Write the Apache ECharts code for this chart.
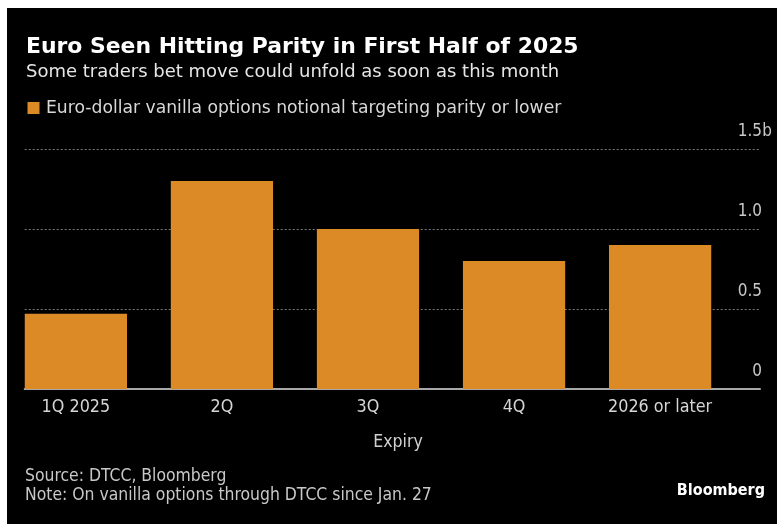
<!DOCTYPE html>
<html>
<head>
<meta charset="utf-8">
<script src="https://cdn.jsdelivr.net/npm/echarts@6/dist/echarts.min.js"></script>
<style>
html,body{margin:0;padding:0;background:#fff;}
#bg{position:absolute;left:7px;top:8px;width:770px;height:516px;background:#000;}
#chart{position:absolute;left:0;top:0;width:777px;height:524px;}
</style>
</head>
<body>
<div id="bg"></div>
<div id="chart"></div>
<script>
const categories = ['1Q 2025', '2Q', '3Q', '4Q', '2026 or later'];
const notionalValues = [0.47, 1.30, 1.00, 0.80, 0.90];
const yTickValues = [0, 0.5, 1.0, 1.5];
const yTickLabels = ['0', '0.5', '1.0', '1.5'];
const yUnitSuffix = 'b';
const titleText = 'Euro Seen Hitting Parity in First Half of 2025';
const subtitleText = 'Some traders bet move could unfold as soon as this month';
const legendText = 'Euro-dollar vanilla options notional targeting parity or lower';
const axisNameText = 'Expiry';
const sourceText = 'Source: DTCC, Bloomberg';
const noteText = 'Note: On vanilla options through DTCC since Jan. 27';
const brandText = 'Bloomberg';

const WIDE = "'DejaVu Sans', sans-serif";
const NARROW = "'DejaVu Sans Condensed', 'DejaVu Sans', sans-serif";
const ORANGE = '#DB8A26';

const chart = echarts.init(document.getElementById('chart'), null, {renderer: 'canvas'});

function txt(x, y, text, size, color, weight, align, family) {
  return {
    type: 'text', x: x, y: y, silent: true,
    style: {
      text: text, fill: color, fontSize: size, fontFamily: family || NARROW,
      fontWeight: weight || 'normal', align: align || 'left', verticalAlign: 'middle'
    }
  };
}

const option = {
  backgroundColor: 'transparent',
  animation: false,
  textStyle: {fontFamily: NARROW},
  grid: [
    {left: 2.85, right: 43.85, top: 149, bottom: 135},
    {left: 24.7, right: 17, top: 149, bottom: 135}
  ],
  xAxis: [
    {
      type: 'category', gridIndex: 0, data: categories,
      axisLine: {show: false}, axisTick: {show: false},
      axisLabel: {color: '#D6D6D6', fontSize: 17.8, fontFamily: NARROW, margin: 9, interval: 0}
    },
    {
      type: 'value', gridIndex: 1, min: 0, max: 1,
      axisLine: {show: true, lineStyle: {color: '#A8A8A8', width: 2}},
      axisTick: {show: false}, axisLabel: {show: false}, splitLine: {show: false}
    }
  ],
  yAxis: [
    {type: 'value', gridIndex: 0, min: 0, max: 1.5, show: false},
    {
      type: 'value', gridIndex: 1, position: 'right', min: 0, max: 1.5, interval: 0.5,
      axisLine: {show: false}, axisTick: {show: false},
      splitLine: {show: true, lineStyle: {color: '#7A7A7A', width: 1, type: [2, 2]}},
      axisLabel: {
        margin: 12, align: 'right', verticalAlign: 'bottom', padding: [0, 0, 7, 0],
        formatter: function (v) {
          const i = yTickValues.findIndex(t => Math.abs(t - v) < 1e-9);
          const lab = i >= 0 ? yTickLabels[i] : String(v);
          const isTop = i === yTickValues.length - 1;
          return '{n|' + lab + '}{u|' + (isTop ? yUnitSuffix : ' ') + '}';
        },
        rich: {
          n: {color: '#C8C8C8', fontSize: 17, fontFamily: NARROW, lineHeight: 20},
          u: {color: '#C8C8C8', fontSize: 17, fontFamily: NARROW, lineHeight: 20, width: 10, align: 'left'}
        }
      }
    }
  ],
  series: [
    {
      type: 'bar', xAxisIndex: 0, yAxisIndex: 0, data: notionalValues,
      barCategoryGap: '30%', itemStyle: {color: ORANGE}, z: 3
    }
  ],
  graphic: [
    txt(26, 47.5, titleText, 21.9, '#FFFFFF', 'bold', 'left', WIDE),
    txt(26, 72, subtitleText, 18, '#E6E6E6', 'normal', 'left', WIDE),
    {type: 'rect', shape: {x: 27.5, y: 102, width: 12, height: 12}, style: {fill: ORANGE}, silent: true},
    txt(46, 108.5, legendText, 17.2, '#D8D8D8', 'normal', 'left', WIDE),
    txt(398, 442, axisNameText, 17.5, '#D0D0D0', 'normal', 'center'),
    txt(25, 476.5, sourceText, 17.4, '#C8C8C8'),
    txt(25, 495, noteText, 17.4, '#C8C8C8'),
    txt(765, 491, brandText, 16, '#FFFFFF', 'bold', 'right')
  ]
};
chart.setOption(option);
</script>
</body>
</html>
